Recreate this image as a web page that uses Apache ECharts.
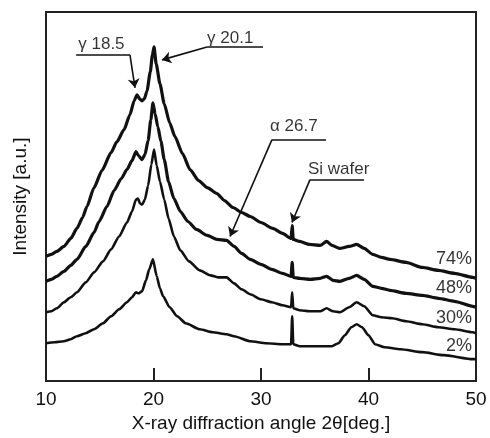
<!DOCTYPE html>
<html><head><meta charset="utf-8">
<script src="https://cdn.jsdelivr.net/npm/echarts@6/dist/echarts.min.js"></script>
<style>html,body{margin:0;padding:0;background:#fff}#c{width:490px;height:438px}</style>
</head><body><div id="c"></div>
<script>
const xTicks = [10, 20, 30, 40, 50];
const seriesNames = ['74%', '48%', '30%', '2%'];

const data74 = [[10,125],[10.5,127],[11,130],[11.67,135],[12.3,143],[12.88,153],[13.4,164],[13.81,175],[14.47,194],[15.2,211],[16.05,229],[16.6,240],[17.26,252],[17.8,267],[18.2,281],[18.47,287],[18.7,283],[18.93,281],[19.15,283],[19.4,291],[19.7,310],[19.9,327],[20.05,335],[20.25,318],[20.6,298],[21.0,278],[21.5,259],[22.0,245],[22.7,228],[23.4,212],[24.2,201],[25.0,194],[25.9,188],[26.6,181],[27.4,174],[28.2,169],[29.0,165],[30.0,159],[31.1,153],[32.0,148],[32.8,143],[32.9,156],[33.0,142],[33.6,140],[34.5,137],[35.5,136],[36.1,140],[36.6,136],[37.3,133],[38.2,135],[38.9,137],[39.6,133],[40.4,127],[41.2,124],[42.0,122],[43.5,119],[45.0,114],[46.5,111],[48.0,108],[49.7,104],[50,103]];
const data48 = [[10,100],[10.5,102],[11,105],[11.67,110],[12.3,116],[12.88,122],[13.7,135],[14.47,149],[14.93,160],[15.67,175],[16.33,191],[17.0,203],[17.53,212],[18.0,221],[18.37,230],[18.6,226],[18.93,222],[19.2,227],[19.5,241],[19.75,262],[19.95,279],[20.15,268],[20.4,255],[20.7,240],[21.0,222],[21.4,200],[21.9,183],[22.5,170],[23.2,160],[24.0,152],[25.0,146],[25.9,142],[26.8,141],[27.5,135],[28.2,128],[29.0,122],[30.0,117],[31.0,112],[32.0,108],[32.8,105],[32.9,119],[33.0,104],[33.6,103],[34.6,102],[35.5,103],[36.1,105],[36.7,101],[37.35,100],[38.2,103],[38.9,106],[39.6,102],[40.4,95],[41.2,93],[42.0,91],[43.5,88],[45.0,86],[46.5,83],[48.0,80],[49.7,75],[50,74]];
const data30 = [[10,69],[10.5,70],[11,73],[11.67,79],[12.3,84],[12.88,89],[13.7,99],[14.47,109],[15.3,120],[16.05,132],[16.8,145],[17.53,159],[18.0,170],[18.37,182],[18.55,183],[18.75,178],[18.95,177],[19.2,182],[19.5,196],[19.8,217],[20.05,232],[20.3,216],[20.6,200],[21.0,182],[21.4,163],[21.9,145],[22.5,131],[23.3,120],[24.3,111],[25.3,106],[26.0,104],[26.8,104],[27.5,98],[28.2,92],[29.0,87],[30.0,82],[31.0,79],[32.0,76],[32.8,74],[32.9,89],[33.0,73],[33.6,71],[34.5,70],[35.5,70],[36.1,73],[36.7,70],[37.35,69],[38.2,74],[38.9,79],[39.6,75],[40.4,66],[41.2,64],[42.2,63],[43.5,60],[45.0,57],[46.5,54],[48.0,52],[49.7,49],[50,48]];
const data2 = [[10,38],[10.8,39],[11.67,40],[12.3,42],[12.88,45],[13.7,48],[14.47,52],[15.3,58],[16.05,65],[16.8,72],[17.53,79],[18.0,84],[18.37,89],[18.6,88],[18.93,90],[19.3,101],[19.6,112],[19.95,122],[20.3,105],[20.6,93],[20.9,85],[21.5,74],[22.2,65],[23.0,58],[24.3,52],[25.5,49],[26.8,47],[27.5,45],[29.0,40],[30.5,38],[32.0,37],[32.8,37],[32.9,65],[33.0,37],[33.6,35],[35.0,35],[36.6,35],[37.2,38],[37.8,46],[38.4,54],[38.9,57],[39.4,54],[40.0,46],[40.6,37],[41.5,34],[43.0,32],[45.0,29],[47.0,26],[49.7,22],[50,22]];

const curveData = [data74, data48, data30, data2];
const curveLabelAt = [[49.63,122],[49.63,93],[49.63,63],[49.63,35]];

const annoTexts = ['γ 18.5', 'γ 20.1', 'α 26.7', 'Si wafer'];
const annoTextAt = [[13.0,338],[24.98,344],[30.84,255],[34.37,212]];
// underline segments [start, end] and pointer segments [from, arrow tip]
const annoUnderlines = [
  [[12.8,327],[17.81,327]],
  [[30.19,335],[24.98,335]],
  [[36.05,242],[31.02,242]],
  [[39.58,202],[34.56,202]]
];
const annoPointers = [
  [[17.81,327],[18.28,294]],
  [[24.98,335],[20.79,322]],
  [[31.02,242],[27.12,145]],
  [[34.56,202],[32.88,159]]
];

const FONT = '"Liberation Sans", Arial, sans-serif';
const INK = '#111';
const chart = echarts.init(document.getElementById('c'), null, {renderer: 'canvas'});

const series = curveData.map((d, i) => ({
  type: 'line', name: seriesNames[i], data: d, showSymbol: false, symbol: 'none',
  smooth: 0.2, smoothMonotone: 'x',
  lineStyle: {color: INK, width: i < 2 ? 3.2 : 2.6}, z: 3, silent: true
}));

series.push({
  type: 'lines', coordinateSystem: 'cartesian2d',
  symbol: ['none', 'none'],
  lineStyle: {color: INK, width: 1.6, opacity: 1, curveness: 0},
  data: annoUnderlines.map(p => ({coords: p})), z: 5, silent: true
});
series.push({
  type: 'lines', coordinateSystem: 'cartesian2d',
  symbol: ['none', 'arrow'], symbolSize: 9,
  lineStyle: {color: INK, width: 1.6, opacity: 1, curveness: 0},
  data: annoPointers.map(p => ({coords: p})), z: 5, silent: true
});

series.push({
  type: 'scatter', symbolSize: 0, silent: true, z: 6,
  data: annoTexts.map((t, i) => ({name: t, value: annoTextAt[i]})),
  label: {show: true, position: 'right', distance: 0, formatter: p => p.name,
    fontFamily: FONT, fontSize: 17, color: '#000'}
});

series.push({
  type: 'scatter', symbolSize: 0, silent: true, z: 6,
  data: seriesNames.map((t, i) => ({name: t, value: curveLabelAt[i]})),
  label: {show: true, position: 'left', distance: 0, formatter: p => p.name,
    fontFamily: FONT, fontSize: 18, color: '#000'}
});

chart.setOption({
  animation: false,
  backgroundColor: '#fff',
  grid: {left: 46, right: 14, top: 12, bottom: 56, show: true, borderColor: '#222', borderWidth: 2, backgroundColor: 'transparent'},
  xAxis: {
    type: 'value', min: xTicks[0], max: xTicks[xTicks.length - 1], interval: 10,
    axisLine: {show: true, lineStyle: {color: '#222', width: 2}},
    axisTick: {show: true, inside: true, length: 13, lineStyle: {color: '#222', width: 2}},
    axisLabel: {fontFamily: FONT, fontSize: 19, color: '#111', margin: 9},
    splitLine: {show: false},
    name: 'X-ray diffraction angle 2θ[deg.]', nameLocation: 'middle', nameGap: 31,
    nameTextStyle: {fontFamily: FONT, fontSize: 19, color: '#111'}
  },
  yAxis: {
    type: 'value', min: 0, max: 370,
    axisLine: {show: true, lineStyle: {color: '#222', width: 2}},
    axisTick: {show: false}, axisLabel: {show: false}, splitLine: {show: false},
    name: 'Intensity [a.u.]', nameLocation: 'middle', nameGap: 16,
    nameTextStyle: {fontFamily: FONT, fontSize: 19, color: '#111'}
  },
  series: series
});
</script></body></html>
